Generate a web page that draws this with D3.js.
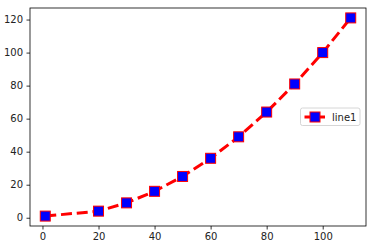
<!DOCTYPE html>
<html>
<head>
<meta charset="utf-8">
<script src="https://cdnjs.cloudflare.com/ajax/libs/d3/7.8.5/d3.min.js"></script>
<style>
  body { margin: 0; background: #fff; }
  svg text { font-family: "DejaVu Sans", sans-serif; }
</style>
</head>
<body>
<div id="chart"></div>
<script>
const xValues = [1, 20, 30, 40, 50, 60, 70, 80, 90, 100, 110]
const yValues = [1, 4, 9, 16, 25, 36, 49, 64, 81, 100, 121]
const xTicks = [0, 20, 40, 60, 80, 100]
const yTicks = [0, 20, 40, 60, 80, 100, 120]
const seriesName = "line1"

const W = 377, H = 252
const m = { left: 30, top: 8, right: 11, bottom: 26 }

const svg = d3.select("#chart").append("svg")
  .attr("width", W).attr("height", H)

const x = d3.scaleLinear().domain([-4.45, 115.45]).range([m.left, W - m.right])
const y = d3.scaleLinear().domain([-5, 127]).range([H - m.bottom, m.top])

const xAxis = svg.append("g")
  .attr("transform", `translate(0,${H - m.bottom})`)
  .call(d3.axisBottom(x).tickValues(xTicks).tickSize(3.5).tickPadding(3.5))
const yAxis = svg.append("g")
  .attr("transform", `translate(${m.left},0)`)
  .call(d3.axisLeft(y).tickValues(yTicks).tickSize(3.5).tickPadding(3.5))

for (const g of [xAxis, yAxis]) {
  g.select(".domain").remove()
  g.selectAll("line").attr("stroke", "#000").attr("stroke-width", 0.8)
  g.selectAll("text").attr("font-size", "10px").attr("fill", "#222")
}

// frame
svg.append("rect")
  .attr("x", m.left).attr("y", m.top)
  .attr("width", W - m.left - m.right).attr("height", H - m.top - m.bottom)
  .attr("fill", "none").attr("stroke", "#000").attr("stroke-width", 0.8)

const pts = xValues.map((v, i) => [v, yValues[i]])

svg.append("path")
  .datum(pts)
  .attr("fill", "none")
  .attr("stroke", "red")
  .attr("stroke-width", 3)
  .attr("stroke-dasharray", "11,4.8")
  .attr("d", d3.line().x(d => x(d[0])).y(d => y(d[1])))

const ms = 10
svg.append("g").selectAll("rect").data(pts).join("rect")
  .attr("x", d => x(d[0]) - ms / 2).attr("y", d => y(d[1]) - ms / 2)
  .attr("width", ms).attr("height", ms)
  .attr("fill", "blue").attr("stroke", "red").attr("stroke-width", 1)

// legend
const lg = svg.append("g").attr("transform", "translate(300.5,108)")
lg.append("rect").attr("width", 59.5).attr("height", 17.5).attr("rx", 2)
  .attr("fill", "#fff").attr("fill-opacity", 0.8)
  .attr("stroke", "#ccc").attr("stroke-width", 0.8)
lg.append("line").attr("x1", 4).attr("x2", 24.5).attr("y1", 9).attr("y2", 9)
  .attr("stroke", "red").attr("stroke-width", 3)
lg.append("rect").attr("x", 14.5 - ms / 2).attr("y", 9 - ms / 2).attr("width", ms).attr("height", ms)
  .attr("fill", "blue").attr("stroke", "red").attr("stroke-width", 1)
lg.append("text").attr("x", 31.5).attr("y", 12.5).attr("font-size", "10px").attr("fill", "#222")
  .text(seriesName)
</script>
</body>
</html>
